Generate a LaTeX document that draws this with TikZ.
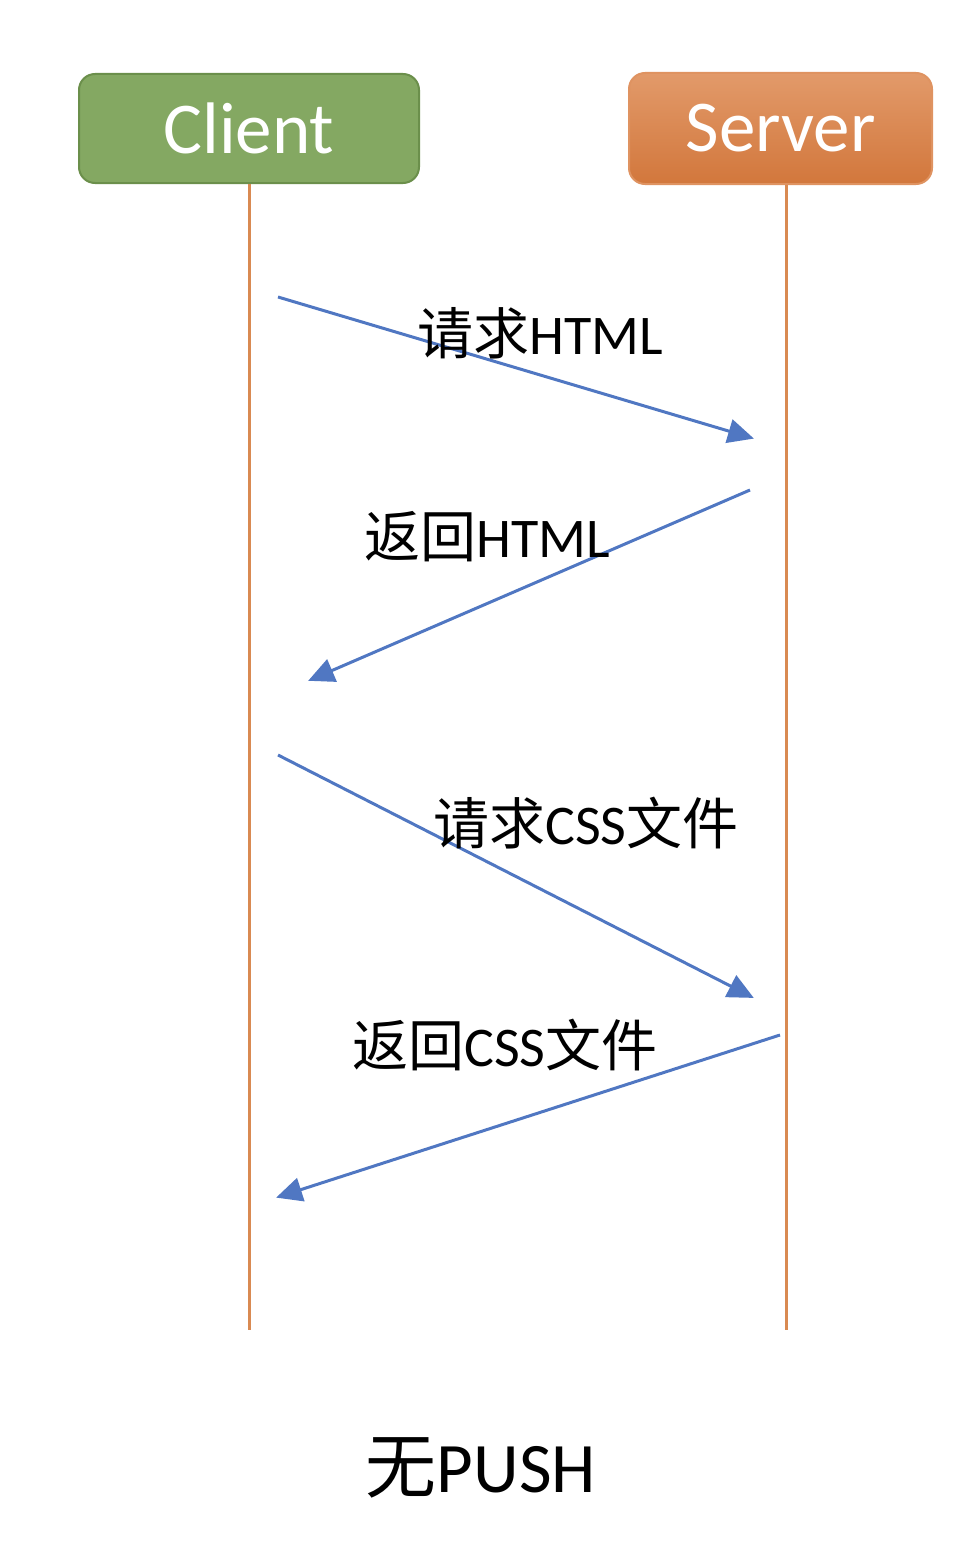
\documentclass[tikz,border=0pt]{standalone}
\usepackage{fontspec}
\setmainfont{Carlito}
\newfontfamily\cjk{Noto Sans CJK SC}
\usetikzlibrary{arrows.meta}
\definecolor{cgreen}{HTML}{84A862}
\definecolor{cgreenb}{HTML}{6B8F4B}
\definecolor{otop}{HTML}{E29A6A}
\definecolor{obot}{HTML}{D2773C}
\definecolor{oline}{HTML}{D98A52}
\definecolor{ablue}{HTML}{5077C2}
\tikzset{
  actor/.style={rounded corners=16pt, line width=2pt, text=white, anchor=north west, inner sep=0pt,
    font=\fontsize{73}{80}\selectfont},
  life/.style={draw=oline, line width=3pt},
  msg/.style={draw=ablue, line width=3pt, -{Triangle[length=26pt,width=24pt]}, shorten >=-2pt},
  lbl/.style={font=\fontsize{56}{62}\selectfont, inner sep=0pt}
}
\begin{document}
\begin{tikzpicture}[x=1pt,y=-1pt]
\useasboundingbox (0,0) rectangle (966,1552);
\node[actor, fill=cgreen, draw=cgreenb, minimum width=340pt, minimum height=109pt] (client) at (78,73) {Client};
\node[actor, top color=otop, bottom color=obot, draw=otop!80!obot, minimum width=303pt, minimum height=111pt] (server) at (628,72) {Server};
\coordinate (cend) at (249,1330);
\coordinate (send) at (786,1330);
\draw[life] (client.south -| cend) -- (cend);
\draw[life] (server.south -| send) -- (send);
\coordinate (a1s) at (278,297);
\coordinate (a1e) at (752,438);
\coordinate (a2s) at (750,490);
\coordinate (a2e) at (310,680);
\coordinate (a3s) at (278,755);
\coordinate (a3e) at (752,997);
\coordinate (a4s) at (780,1035);
\coordinate (a4e) at (278,1197);
\draw[msg] (a1s) -- (a1e);
\draw[msg] (a2s) -- (a2e);
\draw[msg] (a3s) -- (a3e);
\draw[msg] (a4s) -- (a4e);
\node[lbl] (l1) at (540,333) {{\cjk 请求}HTML};
\node[lbl] (l2) at (487,537) {{\cjk 返回}HTML};
\node[lbl] (l3) at (586,823) {{\cjk 请求}CSS{\cjk 文件}};
\node[lbl] (l4) at (505,1045) {{\cjk 返回}CSS{\cjk 文件}};
\node[font=\fontsize{71}{78}\selectfont, inner sep=0pt] (title) at (481,1468) {{\cjk 无}PUSH};
\end{tikzpicture}
\end{document}
